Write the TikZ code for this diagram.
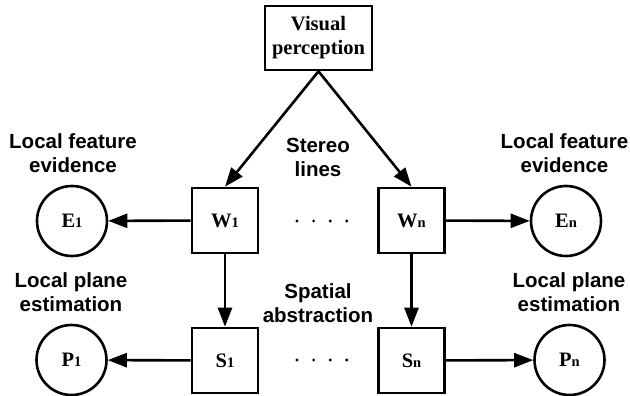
\documentclass[tikz,border=0pt]{standalone}
\usepackage{fontspec}
\setmainfont{Liberation Serif}
\setsansfont{Liberation Sans}
\usetikzlibrary{arrows.meta,positioning}

\newcommand{\idx}[1]{{\fontsize{14.5}{14.5}\selectfont #1}}

\begin{document}
\begin{tikzpicture}[
  x=1pt, y=-1pt,
  font=\fontsize{20.5}{24}\selectfont,
  >={Triangle[length=19pt,width=14pt]},
  line width=2.6pt,
  box/.style={rectangle, draw=black, inner sep=0pt, minimum width=66pt, minimum height=65pt, font=\fontsize{20.5}{24}\selectfont\bfseries},
  state/.style={circle, draw=black, inner sep=0pt, minimum size=70pt, font=\fontsize{20.5}{24}\selectfont\bfseries},
  lbl/.style={align=center, inner sep=0pt, font=\fontsize{20.5}{24}\selectfont\sffamily\bfseries}]

\useasboundingbox (0,0) rectangle (630,396);

\node[box, minimum width=107pt, minimum height=64pt, align=center] (vp) at (318.5,38) {Visual\\perception};

\node[box] (w1) at (225,220.5) {W\idx{1}};
\node[box] (wn) at (411.5,220.5) {W\idx{n}};
\node[box] (s1) at (225,360.5) {S\idx{1}};
\node[box] (sn) at (411.5,360.5) {S\idx{n}};

\node[state] (e1) at (72,221) {E\idx{1}};
\node[state] (en) at (566,221) {E\idx{n}};
\node[state] (p1) at (71.5,360) {P\idx{1}};
\node[state] (pn) at (569.5,360) {P\idx{n}};

\node[lbl] (fe1) at (73,153) {Local feature\\evidence};
\node[lbl] (fen) at (564.5,153) {Local feature\\evidence};
\node[lbl] (st) at (318,157) {Stereo\\lines};
\node[lbl] (pe1) at (71,292) {Local plane\\estimation};
\node[lbl] (pen) at (569,292) {Local plane\\estimation};
\node[lbl] (sp) at (318,303) {Spatial\\abstraction};

\foreach \x in {0,...,3} {
  \fill (297+16.6*\x,221) circle (1.6pt);
  \fill (297+16.6*\x,360) circle (1.6pt);
}

\draw [->] (vp.south) -- (w1.north);
\draw [->] (vp.south) -- (wn.north);

\draw [->] (w1) -- (e1);
\draw [->] (wn) -- (en);
\draw [->] (w1) -- (s1);
\draw [->] (wn) -- (sn);
\draw [->] (s1) -- (p1);
\draw [->] (sn) -- (pn);

\end{tikzpicture}
\end{document}
